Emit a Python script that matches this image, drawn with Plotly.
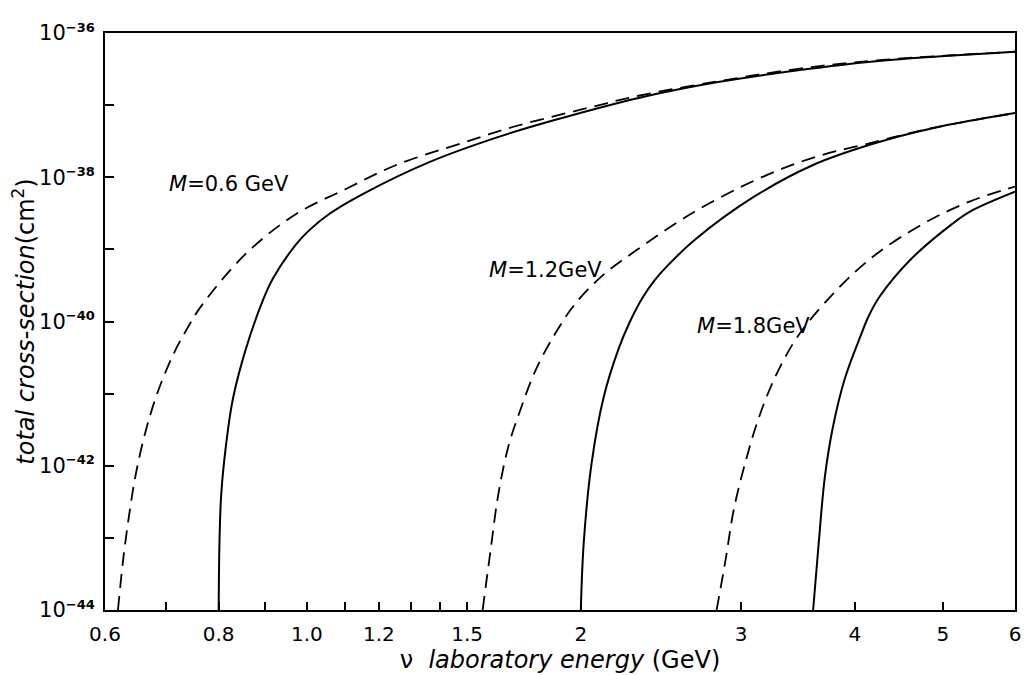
import math
import plotly.graph_objects as go

# ---- data (x in GeV, y as log10 of cross-section in cm^2) ----
x_m06_solid = [0.800, 0.805, 0.819, 0.830, 0.857, 0.895, 0.918, 0.973, 1.005, 1.058, 1.153, 1.363, 1.615, 1.880, 2.315, 2.83, 3.45, 4.22, 6.0]
lg_m06_solid = [-44.0, -42.41, -41.50, -41.05, -40.38, -39.70, -39.40, -38.93, -38.74, -38.51, -38.23, -37.79, -37.45, -37.20, -36.90, -36.68, -36.52, -36.39, -36.26]

x_m06_dash = [0.620, 0.628, 0.638, 0.649, 0.666, 0.686, 0.713, 0.737, 0.765, 0.857, 0.973, 1.105, 1.254, 1.486, 1.687, 2.004, 2.315, 2.83, 3.45, 4.22, 6.0]
lg_m06_dash = [-44.0, -43.32, -42.67, -42.10, -41.49, -40.97, -40.46, -40.12, -39.79, -39.06, -38.51, -38.16, -37.83, -37.52, -37.30, -37.06, -36.87, -36.67, -36.50, -36.38, -36.26]

x_m12_solid = [2.0, 2.015, 2.055, 2.119, 2.202, 2.263, 2.338, 2.41, 2.485, 2.667, 3.10, 3.60, 4.18, 4.87, 6.0]
lg_m12_solid = [-44.0, -43.06, -41.97, -41.05, -40.37, -40.01, -39.67, -39.43, -39.24, -38.87, -38.27, -37.83, -37.54, -37.32, -37.11]

x_m12_dash = [1.56, 1.591, 1.623, 1.666, 1.717, 1.783, 1.876, 1.973, 2.114, 2.291, 2.641, 3.098, 3.597, 4.18, 4.86, 6.0]
lg_m12_dash = [-44.0, -43.19, -42.40, -41.72, -41.22, -40.68, -40.16, -39.75, -39.36, -39.03, -38.51, -38.05, -37.73, -37.52, -37.32, -37.11]

x_m18_solid = [3.6, 3.652, 3.708, 3.784, 3.901, 4.062, 4.145, 4.262, 4.599, 5.115, 5.366, 6.0]
lg_m18_solid = [-44.0, -43.06, -42.16, -41.47, -40.79, -40.19, -39.92, -39.65, -39.15, -38.65, -38.47, -38.20]

x_m18_dash = [2.82, 2.886, 2.945, 3.036, 3.129, 3.259, 3.420, 3.561, 3.784, 3.981, 4.18, 4.394, 4.86, 5.366, 6.0]
lg_m18_dash = [-44.0, -43.29, -42.61, -41.93, -41.38, -40.81, -40.31, -40.00, -39.62, -39.34, -39.11, -38.91, -38.58, -38.33, -38.13]

x_label_ticks = [0.6, 0.8, 1.0, 1.2, 1.5, 2, 3, 4, 5, 6]
x_tick_labels = ["0.6", "0.8", "1.0", "1.2", "1.5", "2", "3", "4", "5", "6"]
x_minor_ticks = [0.7, 0.9, 1.1, 1.3, 1.4]
y_label_exponents = [-44, -42, -40, -38, -36]
y_minor_exponents = [-43, -41, -39, -37]

labels = ["<i>M</i>=0.6 GeV", "<i>M</i>=1.2GeV", "<i>M</i>=1.8GeV"]
label_x = [0.96, 2.12, 3.59]
label_lg = [-38.10, -39.29, -40.06]

FONT = "DejaVu Sans"

fig = go.Figure()
series = [
    (x_m06_dash, lg_m06_dash, "dash"), (x_m06_solid, lg_m06_solid, "solid"),
    (x_m12_dash, lg_m12_dash, "dash"), (x_m12_solid, lg_m12_solid, "solid"),
    (x_m18_dash, lg_m18_dash, "dash"), (x_m18_solid, lg_m18_solid, "solid"),
]
for xs, lgs, style in series:
    fig.add_trace(go.Scatter(
        x=xs, y=[10 ** v for v in lgs], mode="lines",
        line=dict(color="black", width=2 if style == "solid" else 1.8,
                  dash="solid" if style == "solid" else "14px,8px",
                  shape="spline", smoothing=1.0),
        showlegend=False, hoverinfo="skip"))

for txt, lx, ly in zip(labels, label_x, label_lg):
    fig.add_annotation(x=math.log10(lx), y=ly, xref="x", yref="y", text=txt,
                       showarrow=False, xanchor="right", yanchor="middle",
                       font=dict(family=FONT, size=21, color="black"))

fig.update_xaxes(type="log", range=[math.log10(0.6), math.log10(6)],
                 tickmode="array", tickvals=x_label_ticks, ticktext=x_tick_labels,
                 ticks="inside", ticklen=8, tickwidth=1.5, tickcolor="black",
                 minor=dict(tickmode="array", tickvals=x_minor_ticks, ticks="inside",
                            ticklen=8, tickwidth=1.5, tickcolor="black", showgrid=False),
                 ticklabelstandoff=5,
                 showline=True, linecolor="black", linewidth=2, mirror=True,
                 showgrid=False, zeroline=False,
                 tickfont=dict(family=FONT, size=20, color="black"),
                 title=dict(text="ν  <i>laboratory energy</i> (GeV)",
                            font=dict(family=FONT, size=24, color="black"), standoff=0))
fig.update_yaxes(type="log", range=[-44, -36],
                 tickmode="array",
                 tickvals=[10.0 ** e for e in y_label_exponents],
                 ticktext=["10<sup><span style='font-size:13px'><b>−%d</b></span></sup>" % (-e)
                           for e in y_label_exponents],
                 ticks="inside", ticklen=9, tickwidth=1.5, tickcolor="black",
                 minor=dict(tickmode="array", tickvals=[10.0 ** e for e in y_minor_exponents],
                            ticks="inside", ticklen=9, tickwidth=1.5, tickcolor="black",
                            showgrid=False),
                 ticklabelstandoff=4,
                 showline=True, linecolor="black", linewidth=2, mirror=True,
                 showgrid=False, zeroline=False,
                 tickfont=dict(family=FONT, size=21, color="black"),
                 title=dict(text="<i>total cross-section</i>(cm<sup>2</sup>)",
                            font=dict(family=FONT, size=24, color="black"), standoff=2))

# page body has an 8px margin, so the figure is sized to end at the window edge
fig.update_layout(width=1025, height=667, plot_bgcolor="white", paper_bgcolor="white",
                  margin=dict(l=92, r=17, t=19, b=60))

fig.write_html("out.html")
